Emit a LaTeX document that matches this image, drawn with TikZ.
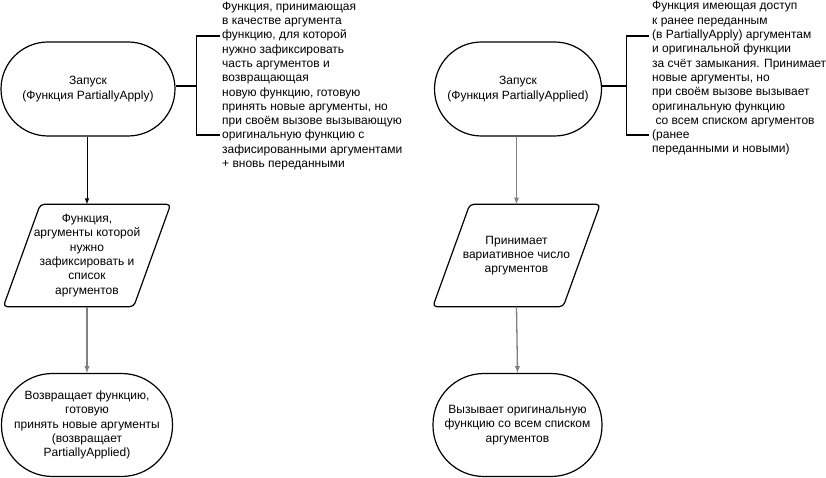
\documentclass[tikz,border=0pt]{standalone}
\usepackage{fontspec}
\setmainfont{Liberation Sans}
\begin{document}
\begin{tikzpicture}[x=1pt,y=1pt,
  font=\fontsize{12}{14.3}\selectfont,
  term/.style={draw, very thick, rectangle, rounded corners=#1, align=center, inner sep=2pt},
  data/.style={rectangle, align=center, minimum width=130pt, minimum height=102pt, inner sep=1pt},
  para/.style={draw, very thick, rounded corners=4pt},
  note/.style={anchor=west, align=left, inner sep=0pt},
  brace/.style={draw, very thick},
  flow/.style={draw, line width=1.3pt, color=gray, -latex},
  flowb/.style={draw, line width=1pt, color=black, -latex}]
\useasboundingbox (0,0) rectangle (826,-478);
\begin{scope}
\node[term=47pt, minimum width=174pt, minimum height=94pt] (start1) at (88,-89) {Запуск\\(Функция PartiallyApply)};
\node[data] (in1) at (87,-255.5) {Функция,\\аргументы которой\\нужно\\зафиксировать и\\список\\ аргументов};
\path[para] ([xshift=18.5pt]in1.north west) -- ([xshift=18.5pt]in1.north east)
  -- ([xshift=-18.5pt]in1.south east) -- ([xshift=-18.5pt]in1.south west) -- cycle;
\node[term=51pt, minimum width=171pt, minimum height=103pt] (end1) at (87,-425) {Возвращает функцию,\\готовую\\принять новые аргументы\\(возвращает\\PartiallyApplied)};
\coordinate (b1) at (196.5,-86);
\coordinate (b1t) at (196.5,-36);
\coordinate (b1b) at (196.5,-135);
\coordinate (n1t) at (220,-36);
\coordinate (n1b) at (220,-135);
\path[brace] (start1.east |- b1) -- (b1);
\path[brace] (n1t) -- (b1t) -- (b1b) -- (n1b);
\node[note] (note1) at (222,-86) {Функция, принимающая\\в качестве аргумента\\функцию, для которой\\нужно зафиксировать\\часть аргументов и\\возвращающая\\новую функцию, готовую\\принять новые аргументы, но\\при своём вызове вызывающую\\оригинальную функцию с\\зафисированными аргументами\\+ вновь переданными};
\path[flowb] (start1.south -| in1) -- (in1.north);
\path[flow] (in1.south) -- (end1.north);
\end{scope}
\begin{scope}
\node[term=47pt, minimum width=167pt, minimum height=94pt] (start2) at (518,-89) {Запуск\\(Функция PartiallyApplied)};
\node[data] (in2) at (516.5,-255.5) {Принимает\\вариативное число\\аргументов};
\path[para] ([xshift=18.5pt]in2.north west) -- ([xshift=18.5pt]in2.north east)
  -- ([xshift=-18.5pt]in2.south east) -- ([xshift=-18.5pt]in2.south west) -- cycle;
\node[term=51pt, minimum width=169pt, minimum height=103pt] (end2) at (517.5,-425) {Вызывает оригинальную\\функцию со всем списком\\аргументов};
\coordinate (b2) at (626.5,-86);
\coordinate (b2t) at (626.5,-36);
\coordinate (b2b) at (626.5,-135);
\coordinate (n2t) at (649,-36);
\coordinate (n2b) at (649,-135);
\path[brace] (start2.east |- b2) -- (b2);
\path[brace] (n2t) -- (b2t) -- (b2b) -- (n2b);
\node[note] (note2) at (652,-78.5) {Функция имеющая доступ\\к ранее переданным\\(в PartiallyApply) аргументам\\и оригинальной функции\\за счёт замыкания. Принимает\\новые аргументы, но\\при своём вызове вызывает\\оригинальную функцию\\\hspace*{3.3pt}со всем списком аргументов\\(ранее\\переданными и новыми)};
\path[flow] (in2.north |- start2.south) -- (in2.north);
\path[flow] (in2.south) -- (end2.north);
\end{scope}
\end{tikzpicture}
\end{document}
